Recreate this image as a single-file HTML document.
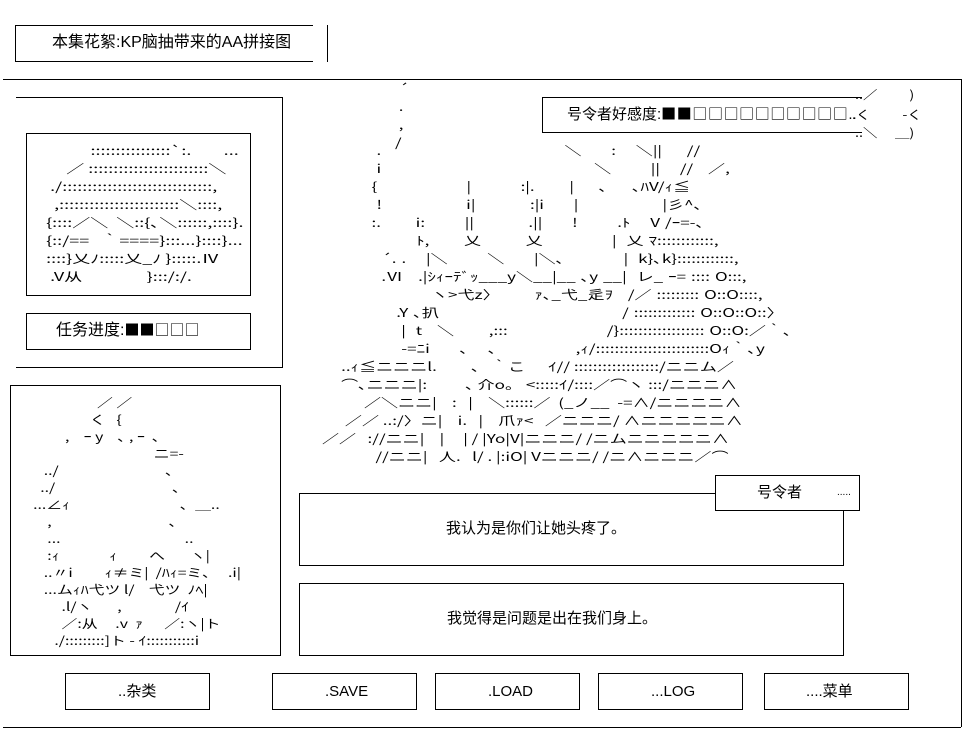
<!DOCTYPE html>
<html><head><meta charset="utf-8"><style>
body{margin:0;background:#fff;width:980px;height:746px;position:relative;overflow:hidden;font-family:"Liberation Sans","Noto Sans CJK SC",sans-serif;color:#000}
.b{position:absolute;border:1.5px solid #000;box-sizing:border-box}
.h{position:absolute;height:0;border-top:1.5px solid #000}
.v{position:absolute;width:0;border-left:1.5px solid #000}
.t{position:absolute;white-space:pre;font-size:15px;line-height:16px}
.s{font-family:"Noto Sans CJK SC",sans-serif;font-size:15px}
.a{position:absolute;white-space:pre;font-family:"Noto Sans CJK JP",sans-serif;font-size:12px;line-height:18px;transform-origin:0 0}
</style></head><body>
<!-- title -->
<div class="b" style="left:15px;top:25px;width:298px;height:37px;border-right:none"></div>
<div class="v" style="left:327px;top:25px;height:37px"></div>
<div class="t" style="left:52px;top:35px;font-size:16px">本集花絮:KP脑抽带来的AA拼接图</div>
<!-- big frame -->
<div class="h" style="left:3px;top:79px;width:958px"></div>
<div class="v" style="left:961px;top:79px;height:648px"></div>
<div class="h" style="left:3px;top:727px;width:958px"></div>
<!-- left panel -->
<div class="h" style="left:16px;top:97px;width:266px"></div>
<div class="v" style="left:282px;top:97px;height:271px"></div>
<div class="h" style="left:16px;top:367px;width:266px"></div>
<div class="b" style="left:26px;top:133px;width:225px;height:163px"></div>
<div class="b" style="left:26px;top:313px;width:225px;height:37px"></div>
<div class="t" style="left:56px;top:322px;font-size:16px">任务进度:<span class="s">■■□□□</span></div>
<!-- lower left -->
<div class="b" style="left:10px;top:385px;width:271px;height:271px"></div>
<!-- affection -->
<div class="b" style="left:542px;top:97px;width:320px;height:36px;border-right:none"></div>
<div class="t" style="left:567px;top:106px">号令者好感度:<span class="s" style="letter-spacing:0.6px">■■□□□□□□□□□□</span>..</div>
<div class="a" style="left:855px;top:86px;transform:scale(1.2,1)">..／　　 )</div>
<div class="a" style="left:852px;top:106px;transform:scale(1.2,1)">.く　　 -く</div>
<div class="a" style="left:855px;top:124px;transform:scale(1.2,1)">..＼　 ＿)</div>
<!-- dialogs -->
<div class="b" style="left:299px;top:493px;width:545px;height:73px"></div>
<div class="b" style="left:715px;top:475px;width:145px;height:36px;background:#fff"></div>
<div class="t" style="left:757px;top:485px">号令者</div>
<div class="t" style="left:837px;top:485px;font-size:10px">.....</div>
<div class="t" style="left:446px;top:521px">我认为是你们让她头疼了。</div>
<div class="b" style="left:299px;top:583px;width:545px;height:73px"></div>
<div class="t" style="left:447px;top:611px">我觉得是问题是出在我们身上。</div>
<!-- buttons -->
<div class="b" style="left:65px;top:673px;width:145px;height:37px"></div>
<div class="t" style="left:118px;top:684px">..杂类</div>
<div class="b" style="left:272px;top:673px;width:145px;height:37px"></div>
<div class="t" style="left:325px;top:684px">.SAVE</div>
<div class="b" style="left:435px;top:673px;width:145px;height:37px"></div>
<div class="t" style="left:488px;top:684px">.LOAD</div>
<div class="b" style="left:598px;top:673px;width:145px;height:37px"></div>
<div class="t" style="left:651px;top:684px">...LOG</div>
<div class="b" style="left:764px;top:673px;width:145px;height:37px"></div>
<div class="t" style="left:806px;top:684px">....菜单</div>
<!-- image art -->
<div class="a" style="left:34px;top:142px;transform:scale(1.5,1)">              ::::::::::::::::`:.        ...
        ／ ::::::::::::::::::::::::＼
    ./::::::::::::::::::::::::::::::,
     ,::::::::::::::::::::::::＼::::,
   {::::／＼  ＼::{､＼::::::,::::}.
   {::/==   ｀====}:::...}::::}...
   ::::}乂ﾉ:::::乂_ﾉ }:::::.Ⅳ
    .V从                }:::/:/.</div>
<!-- lower left art -->
<div class="a" style="left:26px;top:394px;line-height:17px;transform:scale(1.32,1)">                    ／ ／
                  く   {
           ,    ｰ y    ､ , ｰ  ､
                                    ニ=-
     ../                              ､
    ../                                 ､
  ...∠ｨ                               ､  ＿..
      ,                                 ､
      ...                                   ..
      :ｨ              ｨ         へ       ヽ|
     ..〃i         ｨ≠ミ|  /ﾊｨ=ミ､     .i|
     ...ムｨﾊ弋ツ l/    弋ツ  ﾉﾍ|
          .l/ヽ       ,               /ｲ
          ／:从     .v  ｧ      ／:ヽ|ト
        ./:::::::::]ト - ｲ:::::::::::i</div>
<!-- center art -->
<div class="a" style="left:395px;top:80px;transform:scale(1.4,1)"> ´
 .
 ,
/</div>
<div class="a" style="left:322px;top:142px;transform:scale(1.42,1);word-spacing:0.8px">           .                                     ＼      :    ＼||     //
           i                                           ＼        ||    //   ／,
          {                  |          :|.       |     ､     ､ﾊV/ｨ≦
           !                 i|           :|i      |                 |彡^､
          :.       i:        ||           .||      !        .ﾄ    V /ｰ=-､
                   ﾄ,       乂         乂              |  乂 ﾏ::::::::::::,
            ´. .    |＼        ＼      |＼､            |  k}､k}::::::::::::,
            .Ⅵ   .|ｼｨｰﾃﾞｯ___y＼__|__ ､y __|  レ_ ｰ= :::: O:::,
                      ヽ>弋z〉       ｧ､_弋_辵ｦ   /／ ::::::::: O::O::::,
               .Y ､扒                                     / ::::::::::::: O::O::O::〉
                |  t   ＼       ,:::                    /}:::::::::::::::::: O::O:／｀､
                -=ﾆi      ､    ､                ,ｨ/::::::::::::::::::::::::Oｨ｀､y</div>
<div class="a" style="left:322px;top:358px;transform:scale(1.42,1)">     ..ｨ≦ニニニl.         ､   ｀こ      ｲ// ::::::::::::::::::/ニニム／
     ⌒､ニニニ|:          ､ 介o。 <:::::ｲ/::::／⌒ヽ :::/ニニニ∧
           ／＼ニニ|    :   |    ＼::::::／  (_ノ__  -=∧/ニニニニ∧
      ／／ ..:/〉ニ|    i.   |    爪ｧ<   ／ニニニ/ ∧ニニニニニ∧
／／   ://ニニ|    |     | / |Yo|V|ニニニ/ /ニムニニニニニ∧
              //ニニ|   人.   l/ . |:iO| Vニニニ/ /ニ∧ニニニ／⌒</div>
</body></html>
